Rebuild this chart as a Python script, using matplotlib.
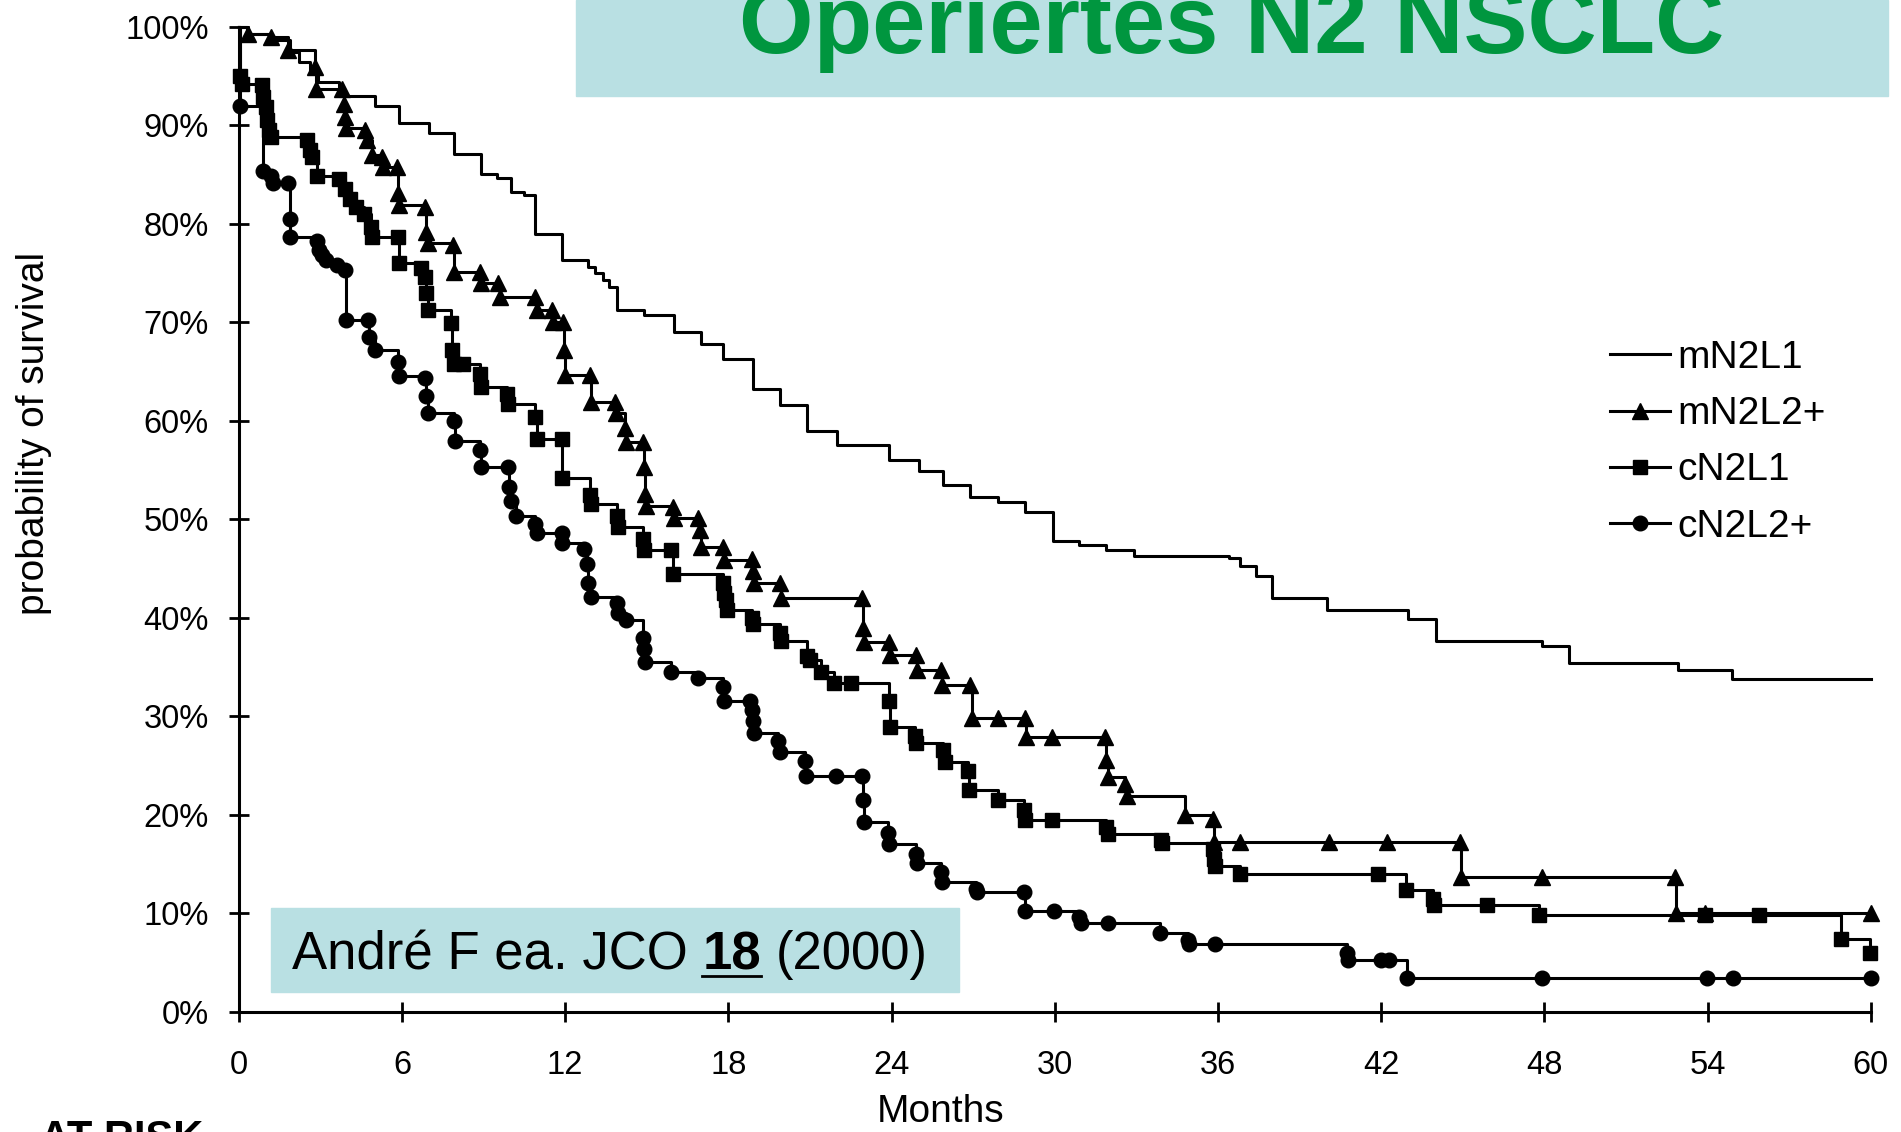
import matplotlib
matplotlib.use("Agg")
import matplotlib.pyplot as plt
from matplotlib.patches import Rectangle
from matplotlib.lines import Line2D

plt.rcParams["font.family"] = ["Liberation Sans", "DejaVu Sans"]

# Kaplan-Meier step points (months, survival %)
mN2L1_t = [0, 0.3, 1.1, 1.9, 2.2, 2.6, 2.9, 3.7, 5.0, 5.9, 7.0, 7.9, 8.9, 9.5, 10.0, 10.5,
           10.9, 11.9, 12.85, 13.1, 13.4, 13.6, 13.9, 14.9, 16.0, 17.0, 17.8, 18.9, 19.9,
           20.9, 22.0, 23.9, 25.0, 25.9, 26.9, 27.9, 28.9, 29.95, 30.9, 31.9, 32.9, 36.4,
           36.8, 37.4, 38.0, 40.0, 43.0, 44.0, 47.9, 48.9, 52.9, 54.9, 60]
mN2L1_s = [100, 99.3, 98.6, 97.4, 96.4, 95.3, 94.4, 93.0, 92.0, 90.2, 89.2, 87.1, 85.0, 84.6,
           83.2, 82.9, 79.0, 76.3, 75.6, 75.0, 74.3, 73.6, 71.2, 70.7, 69.0, 67.8, 66.3, 63.2,
           61.6, 59.0, 57.5, 56.0, 54.9, 53.5, 52.3, 51.8, 50.7, 47.8, 47.4, 46.9, 46.3, 46.1,
           45.3, 44.3, 42.0, 40.8, 39.9, 37.7, 37.1, 35.4, 34.7, 33.8, 33.8]

mN2L2_t = [0, 0.35, 1.2, 1.8, 2.8, 2.85, 3.8, 3.85, 3.9, 3.95, 4.64, 4.7, 4.9, 5.25, 5.3, 5.8,
           5.85, 5.9, 6.85, 6.9, 6.95, 7.88, 7.92, 8.87, 8.92, 9.54, 9.6, 10.9, 10.95, 11.5,
           11.55, 11.93, 11.97, 12.0, 12.9, 12.95, 13.83, 13.88, 14.2, 14.25, 14.87, 14.9,
           14.93, 14.96, 15.97, 16.0, 16.9, 16.95, 17.0, 17.8, 17.85, 18.86, 18.9, 18.95,
           19.9, 19.95, 22.9, 22.95, 23.0, 23.9, 23.95, 24.9, 24.95, 25.8, 25.85, 26.9, 26.95,
           27.9, 28.9, 28.95, 29.9, 31.85, 31.9, 31.95, 32.6, 32.65, 34.8, 35.8, 35.85, 36.8,
           40.1, 42.2, 44.9, 44.95, 47.9, 52.8, 52.85, 53.9, 60]
mN2L2_s = [100, 99.3, 99.0, 97.6, 95.9, 93.7, 93.7, 92.2, 90.8, 89.7, 89.5, 88.5, 87.0, 86.8,
           85.8, 85.8, 83.1, 81.9, 81.7, 79.2, 78.0, 77.8, 75.1, 75.1, 74.0, 74.0, 72.6, 72.6,
           71.2, 71.2, 70.0, 70.0, 67.2, 64.6, 64.6, 61.9, 61.9, 60.8, 59.3, 57.9, 57.9, 55.3,
           52.6, 51.4, 51.3, 50.1, 50.1, 48.9, 47.2, 47.2, 45.9, 46.0, 44.8, 43.5, 43.5, 42.0,
           42.0, 39.0, 37.6, 37.6, 36.2, 36.2, 34.7, 34.7, 33.2, 33.2, 29.8, 29.8, 29.8, 27.9,
           27.9, 27.9, 25.6, 23.9, 23.1, 21.9, 20.0, 19.6, 17.3, 17.3, 17.3, 17.3, 17.3, 13.7,
           13.7, 13.7, 10.0, 10.0, 10.0]

cN2L1_t = [0, 0.05, 0.1, 0.84, 0.9, 1.0, 1.05, 1.1, 1.2, 2.5, 2.6, 2.7, 2.86, 3.7, 3.9, 4.1,
           4.3, 4.6, 4.85, 4.9, 5.86, 5.9, 6.7, 6.85, 6.9, 6.95, 7.8, 7.85, 7.9, 8.25, 8.87,
           8.9, 9.85, 9.9, 10.9, 10.95, 11.87, 11.9, 12.9, 12.95, 13.9, 13.95, 14.85, 14.9,
           15.9, 15.95, 17.8, 17.85, 17.9, 17.95, 18.86, 18.9, 19.9, 19.95, 20.9, 21.0, 21.4,
           21.9, 22.5, 23.9, 23.95, 24.85, 24.9, 25.9, 25.95, 26.8, 26.85, 27.9, 28.86, 28.9,
           29.9, 31.9, 31.95, 33.9, 33.95, 35.8, 35.85, 35.9, 36.8, 41.9, 42.9, 43.9, 43.95,
           45.9, 47.8, 53.9, 55.9, 58.9, 59.96]
cN2L1_s = [100, 95.0, 94.2, 94.1, 92.9, 91.9, 90.5, 89.5, 88.8, 88.5, 87.5, 86.8, 84.8, 84.5,
           83.5, 82.5, 81.7, 81.0, 79.7, 78.7, 78.7, 76.0, 75.5, 74.6, 73.0, 71.2, 69.9, 67.2,
           65.8, 65.8, 64.8, 63.4, 62.7, 61.7, 60.4, 58.2, 58.2, 54.2, 52.5, 51.6, 50.3, 49.2,
           48.0, 46.9, 46.9, 44.5, 43.5, 42.5, 41.8, 40.8, 40.0, 39.4, 38.5, 37.7, 36.1, 35.7,
           34.5, 33.4, 33.4, 31.6, 28.9, 28.0, 27.3, 26.6, 25.4, 24.5, 22.5, 21.5, 20.5, 19.5,
           19.5, 18.8, 18.1, 17.5, 17.2, 16.5, 15.5, 14.8, 14.0, 14.0, 12.4, 11.5, 10.9, 10.9,
           9.8, 9.8, 9.8, 7.4, 6.0]

cN2L2_t = [0, 0.03, 0.9, 1.2, 1.25, 1.82, 1.87, 1.9, 2.86, 2.95, 3.05, 3.2, 3.6, 3.9, 3.95,
           4.76, 4.8, 5.0, 5.85, 5.9, 6.85, 6.9, 6.95, 7.9, 7.95, 8.87, 8.92, 9.9, 9.92, 10.0,
           10.2, 10.9, 10.95, 11.87, 11.9, 12.7, 12.8, 12.85, 12.95, 13.9, 13.95, 14.25, 14.87,
           14.9, 14.95, 15.9, 16.9, 17.8, 17.85, 18.8, 18.86, 18.9, 18.95, 19.84, 19.9, 20.8,
           20.85, 21.95, 22.9, 22.95, 23.0, 23.86, 23.9, 24.9, 24.95, 25.8, 25.85, 27.1, 27.15,
           28.86, 28.9, 29.99, 30.9, 30.95, 31.96, 33.86, 34.9, 34.95, 35.9, 40.75, 40.8, 42.0,
           42.3, 42.95, 47.9, 53.97, 54.95, 60]
cN2L2_s = [100, 92.0, 85.4, 84.8, 84.1, 84.1, 80.5, 78.7, 78.3, 77.3, 76.8, 76.3, 75.8, 75.3,
           70.2, 70.2, 68.5, 67.2, 66.0, 64.5, 64.3, 62.5, 60.8, 60.0, 58.0, 57.0, 55.3, 55.3,
           53.3, 51.9, 50.3, 49.5, 48.6, 48.6, 47.6, 47.0, 45.5, 43.5, 42.1, 41.5, 40.5, 39.8,
           38.0, 36.8, 35.5, 34.5, 33.9, 33.0, 31.6, 31.6, 30.6, 29.5, 28.3, 27.5, 26.4, 25.5,
           24.0, 24.0, 24.0, 21.5, 19.3, 18.2, 17.1, 16.0, 15.1, 14.2, 13.2, 12.5, 12.2, 12.2,
           10.2, 10.2, 9.6, 9.0, 9.0, 8.0, 7.3, 6.9, 6.9, 6.0, 5.3, 5.3, 5.3, 3.4, 3.4, 3.4,
           3.4, 3.4]

series = [
    ("mN2L1", mN2L1_t, mN2L1_s, None, 0),
    ("mN2L2+", mN2L2_t, mN2L2_s, "^", 11),
    ("cN2L1", cN2L1_t, cN2L1_s, "s", 10),
    ("cN2L2+", cN2L2_t, cN2L2_s, "o", 10.5),
]

W, H = 1901, 1132
fig = plt.figure(figsize=(W / 100, H / 100), dpi=100)
ax = fig.add_axes([238.8 / W, 1 - 1012 / H, 1631.9 / W, 985.3 / H])

handles = []
for name, t, s, mk, ms in series:
    ax.step(t, s, where="post", color="black", lw=2.2, clip_on=False, zorder=3)
    if mk:
        ax.plot(t[1:], s[1:], ls="none", marker=mk, ms=ms, color="black", clip_on=False, zorder=4)
    handles.append(Line2D([], [], color="black", lw=2.2, marker=mk, ms=ms))

ax.set_xlim(0, 60)
ax.set_ylim(0, 100)
ax.set_xticks(range(0, 61, 6))
ax.set_yticks(range(0, 101, 10))
ax.set_yticklabels([f"{v}%" for v in range(0, 101, 10)])
for sp in ["top", "right"]:
    ax.spines[sp].set_visible(False)
for sp in ["left", "bottom"]:
    ax.spines[sp].set_linewidth(2.2)
ax.tick_params(axis="both", direction="inout", length=15, width=2, labelsize=23.5)
ax.tick_params(axis="y", pad=14)
ax.tick_params(axis="x", pad=20)

ax.legend(handles, [s[0] for s in series], loc="upper left",
          bbox_to_anchor=(1610 / W, 1 - 340 / H), bbox_transform=fig.transFigure,
          frameon=False, fontsize=28, handlelength=1.55, handletextpad=0.18,
          labelspacing=0.52, borderpad=0, borderaxespad=0, numpoints=1)

fig.text(34 / W, 1 - 433 / H, "probability of survival", rotation=90,
         ha="center", va="center", fontsize=28)
fig.text(941 / W, 1 - 1094 / H, "Months", ha="center", va="top", fontsize=28)
fig.text(40 / W, 1 - 1150 / H, "AT RISK", ha="left", va="baseline",
         fontsize=30, fontweight="bold")

# title box
fig.patches.append(Rectangle((576 / W, 1 - 96 / H), 1312 / W, 96 / H,
                             transform=fig.transFigure, color="#B9E0E3", zorder=5))
fig.text(1232 / W, 1 - 53 / H, "Operiertes N2 NSCLC", ha="center", va="baseline",
         fontsize=69, fontweight="bold", color="#00963F", zorder=6)

# citation box
fig.patches.append(Rectangle((271 / W, 1 - 992 / H), 688 / W, 84 / H,
                             transform=fig.transFigure, color="#B9E0E3", zorder=5))
fig.canvas.draw()
r = fig.canvas.get_renderer()
base_y = 1 - 969 / H
sp = 0.278 * 38 * 100 / 72
t1 = fig.text(292 / W, base_y, "André F ea. JCO", fontsize=38, va="baseline", zorder=6)
b1 = t1.get_window_extent(r)
t2 = fig.text((b1.x1 + sp) / W, base_y, "18", fontsize=38, fontweight="bold",
              va="baseline", zorder=6)
b2 = t2.get_window_extent(r)
fig.add_artist(Line2D([b2.x0 / W, b2.x1 / W], [1 - 976 / H, 1 - 976 / H],
                      color="black", lw=2, transform=fig.transFigure, zorder=6))
fig.text((b2.x1 + sp) / W, base_y, "(2000)", fontsize=38, va="baseline", zorder=6)

fig.savefig("out.png", dpi=100)
